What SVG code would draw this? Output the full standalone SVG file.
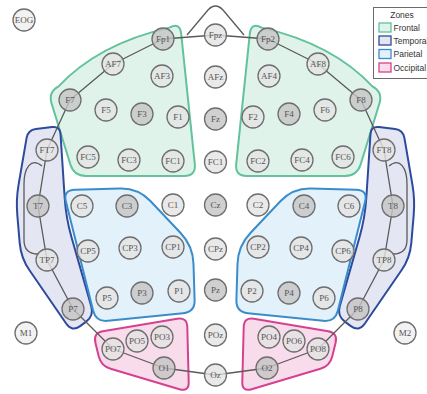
<svg xmlns="http://www.w3.org/2000/svg" xmlns:xlink="http://www.w3.org/1999/xlink" width="427" height="394" viewBox="0 0 427 394">
  <style>
    .zone { stroke-width: 2; stroke-linejoin: round; }
    .frontal { fill: #e0f3ea; stroke: #62c29b; }
    .temporal { fill: #e4e7f3; stroke: #2d4a9c; }
    .parietal { fill: #e3f1fb; stroke: #3b8ccb; }
    .occipital { fill: #f9dcec; stroke: #d4428f; }
    .link { fill: none; stroke: #5a5a5a; stroke-width: 1.3; stroke-linejoin: round; }
    .node circle { fill: #e4e4e4; fill-opacity: 0.8; stroke: #6e6e6e; stroke-width: 1.3; }
    .node.dark circle { fill: #c4c4c4; }
    .node.free circle { fill: #f2f2f2; fill-opacity: 1; }
    .node text { font-family: "Liberation Serif", "DejaVu Serif", serif; font-size: 9px; fill: #555; text-anchor: middle; }
    .legend text { font-family: "Liberation Sans", Arial, sans-serif; font-size: 8.5px; fill: #333; }
    .swatch { stroke-width: 1.3; }
  </style>
  <defs>
    <!-- left-hemisphere zone outlines; right side is the mirror about x = 215.5 -->
    <path id="frontal-shape" d="M58.6,86.4 Q98,44 169.4,27.6 Q180,22 181.2,33.9 L194.8,164.1 Q196,176 184,176 L86,176 Q74,176 70.4,164.5 L51.6,103.5 Q48,92 58.6,86.4 Z"/>
    <path id="temporal-shape" d="M35.9,129 L52.1,127 Q60,126 60.5,134 L64.7,198 Q66,218 71.5,237.2 L91.3,306.4 Q94,316 85.9,321.9 L80.1,326.1 Q72,332 66.3,323.8 L29.5,270.3 Q21,258 19.7,243.1 L17.3,214.9 Q16,200 18.5,185.2 L26.6,137.9 Q28,130 35.9,129 Z"/>
    <path id="parietal-shape" d="M75,189.7 L120,188.5 Q138,188 150.4,201 L180.6,233 Q193,246 193.5,264 L194.6,300 Q195,312 183.1,313.2 L107.9,320.8 Q96,322 93.1,310.4 L65.9,201.6 Q63,190 75,189.7 Z"/>
    <path id="occipital-shape" d="M102.9,331.3 L177.2,318.7 Q187,317 187.3,327 L188.7,382 Q189,392 179.4,389.2 L110.6,368.8 Q101,366 98.7,356.3 L95.4,342.7 Q93,333 102.9,331.3 Z"/>
  </defs>

  <!-- zones -->
  <g id="zones">
    <use id="zone-frontal-left" class="zone frontal" xlink:href="#frontal-shape"/>
    <use id="zone-frontal-right" class="zone frontal" xlink:href="#frontal-shape" transform="translate(431,0) scale(-1,1)"/>
    <use id="zone-temporal-left" class="zone temporal" xlink:href="#temporal-shape"/>
    <use id="zone-temporal-right" class="zone temporal" xlink:href="#temporal-shape" transform="translate(431,0) scale(-1,1)"/>
    <use id="zone-parietal-left" class="zone parietal" xlink:href="#parietal-shape"/>
    <use id="zone-parietal-right" class="zone parietal" xlink:href="#parietal-shape" transform="translate(431,0) scale(-1,1)"/>
    <use id="zone-occipital-left" class="zone occipital" xlink:href="#occipital-shape"/>
    <use id="zone-occipital-right" class="zone occipital" xlink:href="#occipital-shape" transform="translate(431,0) scale(-1,1)"/>
  </g>

  <!-- head outline, nose and ears -->
  <g id="connectors">
    <path class="link" d="M163,39 L113,64 L70,100 L47,150 L38,206 L47,260 L73,309 L113,349 L164,368 L215.5,375 L267,368 L318,349 L358,309 L384,260 L393,206 L384,150 L361,100 L318,64 L268,39 L215.5,35 Z"/>
    <path class="link" d="M187,35 L208,10 Q215.5,2 223,10 L244,35"/>
    <path class="link" d="M42,166 C31,157 24,168 24,184 L24,240 C24,250 30,254 38,254"/>
    <path class="link" d="M389,166 C400,157 407,168 407,184 L407,240 C407,250 401,254 393,254"/>
  </g>

  <!-- electrodes -->
  <g id="nodes">
    <g id="n-EOG" class="node free"><circle cx="24" cy="20" r="11"/><text x="24" y="23.2">EOG</text></g>
    <g id="n-M1" class="node free"><circle cx="26" cy="333" r="11"/><text x="26" y="336.2">M1</text></g>
    <g id="n-M2" class="node free"><circle cx="405" cy="333" r="11"/><text x="405" y="336.2">M2</text></g>

    <g id="n-Fp1" class="node dark"><circle cx="163" cy="39" r="11"/><text x="163" y="42.2">Fp1</text></g>
    <g id="n-Fpz" class="node"><circle cx="215.5" cy="35" r="11"/><text x="215.5" y="38.2">Fpz</text></g>
    <g id="n-Fp2" class="node dark"><circle cx="268" cy="39" r="11"/><text x="268" y="42.2">Fp2</text></g>

    <g id="n-AF7" class="node"><circle cx="113" cy="64" r="11"/><text x="113" y="67.2">AF7</text></g>
    <g id="n-AF3" class="node"><circle cx="162" cy="76" r="11"/><text x="162" y="79.2">AF3</text></g>
    <g id="n-AFz" class="node"><circle cx="215.5" cy="77" r="11"/><text x="215.5" y="80.2">AFz</text></g>
    <g id="n-AF4" class="node"><circle cx="269" cy="76" r="11"/><text x="269" y="79.2">AF4</text></g>
    <g id="n-AF8" class="node"><circle cx="318" cy="64" r="11"/><text x="318" y="67.2">AF8</text></g>

    <g id="n-F7" class="node dark"><circle cx="70" cy="100" r="11"/><text x="70" y="103.2">F7</text></g>
    <g id="n-F5" class="node"><circle cx="106" cy="110" r="11"/><text x="106" y="113.2">F5</text></g>
    <g id="n-F3" class="node dark"><circle cx="142" cy="114" r="11"/><text x="142" y="117.2">F3</text></g>
    <g id="n-F1" class="node"><circle cx="178" cy="117" r="11"/><text x="178" y="120.2">F1</text></g>
    <g id="n-Fz" class="node dark"><circle cx="215.5" cy="119" r="11"/><text x="215.5" y="122.2">Fz</text></g>
    <g id="n-F2" class="node"><circle cx="253" cy="117" r="11"/><text x="253" y="120.2">F2</text></g>
    <g id="n-F4" class="node dark"><circle cx="289" cy="114" r="11"/><text x="289" y="117.2">F4</text></g>
    <g id="n-F6" class="node"><circle cx="325" cy="110" r="11"/><text x="325" y="113.2">F6</text></g>
    <g id="n-F8" class="node dark"><circle cx="361" cy="100" r="11"/><text x="361" y="103.2">F8</text></g>

    <g id="n-FT7" class="node"><circle cx="47" cy="150" r="11"/><text x="47" y="153.2">FT7</text></g>
    <g id="n-FC5" class="node"><circle cx="88" cy="157" r="11"/><text x="88" y="160.2">FC5</text></g>
    <g id="n-FC3" class="node"><circle cx="129" cy="160" r="11"/><text x="129" y="163.2">FC3</text></g>
    <g id="n-FC1" class="node"><circle cx="173" cy="161" r="11"/><text x="173" y="164.2">FC1</text></g>
    <g id="n-FCz" class="node"><circle cx="215.5" cy="162" r="11"/><text x="215.5" y="165.2">FC1</text></g>
    <g id="n-FC2" class="node"><circle cx="258" cy="161" r="11"/><text x="258" y="164.2">FC2</text></g>
    <g id="n-FC4" class="node"><circle cx="302" cy="160" r="11"/><text x="302" y="163.2">FC4</text></g>
    <g id="n-FC6" class="node"><circle cx="343" cy="157" r="11"/><text x="343" y="160.2">FC6</text></g>
    <g id="n-FT8" class="node"><circle cx="384" cy="150" r="11"/><text x="384" y="153.2">FT8</text></g>

    <g id="n-T7" class="node dark"><circle cx="38" cy="206" r="11"/><text x="38" y="209.2">T7</text></g>
    <g id="n-C5" class="node"><circle cx="82" cy="206" r="11"/><text x="82" y="209.2">C5</text></g>
    <g id="n-C3" class="node dark"><circle cx="127" cy="206" r="11"/><text x="127" y="209.2">C3</text></g>
    <g id="n-C1" class="node"><circle cx="173" cy="205" r="11"/><text x="173" y="208.2">C1</text></g>
    <g id="n-Cz" class="node dark"><circle cx="215.5" cy="205" r="11"/><text x="215.5" y="208.2">Cz</text></g>
    <g id="n-C2" class="node"><circle cx="258" cy="205" r="11"/><text x="258" y="208.2">C2</text></g>
    <g id="n-C4" class="node dark"><circle cx="304" cy="206" r="11"/><text x="304" y="209.2">C4</text></g>
    <g id="n-C6" class="node"><circle cx="349" cy="206" r="11"/><text x="349" y="209.2">C6</text></g>
    <g id="n-T8" class="node dark"><circle cx="393" cy="206" r="11"/><text x="393" y="209.2">T8</text></g>

    <g id="n-TP7" class="node"><circle cx="47" cy="260" r="11"/><text x="47" y="263.2">TP7</text></g>
    <g id="n-CP5" class="node"><circle cx="88" cy="251" r="11"/><text x="88" y="254.2">CP5</text></g>
    <g id="n-CP3" class="node"><circle cx="130" cy="248" r="11"/><text x="130" y="251.2">CP3</text></g>
    <g id="n-CP1" class="node"><circle cx="173" cy="247" r="11"/><text x="173" y="250.2">CP1</text></g>
    <g id="n-CPz" class="node"><circle cx="215.5" cy="249" r="11"/><text x="215.5" y="252.2">CPz</text></g>
    <g id="n-CP2" class="node"><circle cx="258" cy="247" r="11"/><text x="258" y="250.2">CP2</text></g>
    <g id="n-CP4" class="node"><circle cx="301" cy="248" r="11"/><text x="301" y="251.2">CP4</text></g>
    <g id="n-CP6" class="node"><circle cx="343" cy="251" r="11"/><text x="343" y="254.2">CP6</text></g>
    <g id="n-TP8" class="node"><circle cx="384" cy="260" r="11"/><text x="384" y="263.2">TP8</text></g>

    <g id="n-P7" class="node dark"><circle cx="73" cy="309" r="11"/><text x="73" y="312.2">P7</text></g>
    <g id="n-P5" class="node"><circle cx="107" cy="298" r="11"/><text x="107" y="301.2">P5</text></g>
    <g id="n-P3" class="node dark"><circle cx="142" cy="293" r="11"/><text x="142" y="296.2">P3</text></g>
    <g id="n-P1" class="node"><circle cx="179" cy="291" r="11"/><text x="179" y="294.2">P1</text></g>
    <g id="n-Pz" class="node dark"><circle cx="215.5" cy="290" r="11"/><text x="215.5" y="293.2">Pz</text></g>
    <g id="n-P2" class="node"><circle cx="252" cy="291" r="11"/><text x="252" y="294.2">P2</text></g>
    <g id="n-P4" class="node dark"><circle cx="289" cy="293" r="11"/><text x="289" y="296.2">P4</text></g>
    <g id="n-P6" class="node"><circle cx="324" cy="298" r="11"/><text x="324" y="301.2">P6</text></g>
    <g id="n-P8" class="node dark"><circle cx="358" cy="309" r="11"/><text x="358" y="312.2">P8</text></g>

    <g id="n-PO7" class="node"><circle cx="113" cy="349" r="11"/><text x="113" y="352.2">PO7</text></g>
    <g id="n-PO5" class="node"><circle cx="137" cy="341" r="11"/><text x="137" y="344.2">PO5</text></g>
    <g id="n-PO3" class="node"><circle cx="162" cy="337" r="11"/><text x="162" y="340.2">PO3</text></g>
    <g id="n-POz" class="node"><circle cx="215.5" cy="335" r="11"/><text x="215.5" y="338.2">POz</text></g>
    <g id="n-PO4" class="node"><circle cx="269" cy="337" r="11"/><text x="269" y="340.2">PO4</text></g>
    <g id="n-PO6" class="node"><circle cx="294" cy="341" r="11"/><text x="294" y="344.2">PO6</text></g>
    <g id="n-PO8" class="node"><circle cx="318" cy="349" r="11"/><text x="318" y="352.2">PO8</text></g>

    <g id="n-O1" class="node dark"><circle cx="164" cy="368" r="11"/><text x="164" y="371.2">O1</text></g>
    <g id="n-Oz" class="node"><circle cx="215.5" cy="375" r="11"/><text x="215.5" y="378.2">Oz</text></g>
    <g id="n-O2" class="node dark"><circle cx="267" cy="368" r="11"/><text x="267" y="371.2">O2</text></g>
  </g>

  <!-- legend -->
  <g id="legend" class="legend">
    <rect x="373.5" y="7.5" width="70" height="71" fill="#ffffff" stroke="#6a6a6a" stroke-width="1"/>
    <text x="402" y="17.5" text-anchor="middle">Zones</text>
    <rect class="swatch frontal" x="379" y="23" width="12" height="9"/>
    <text x="393.5" y="30.5">Frontal</text>
    <rect class="swatch temporal" x="379" y="36" width="12" height="9"/>
    <text x="393.5" y="43.5">Temporal</text>
    <rect class="swatch parietal" x="379" y="49.5" width="12" height="9"/>
    <text x="393.5" y="57">Parietal</text>
    <rect class="swatch occipital" x="379" y="63" width="12" height="9"/>
    <text x="393.5" y="70.5">Occipital</text>
  </g>
</svg>
